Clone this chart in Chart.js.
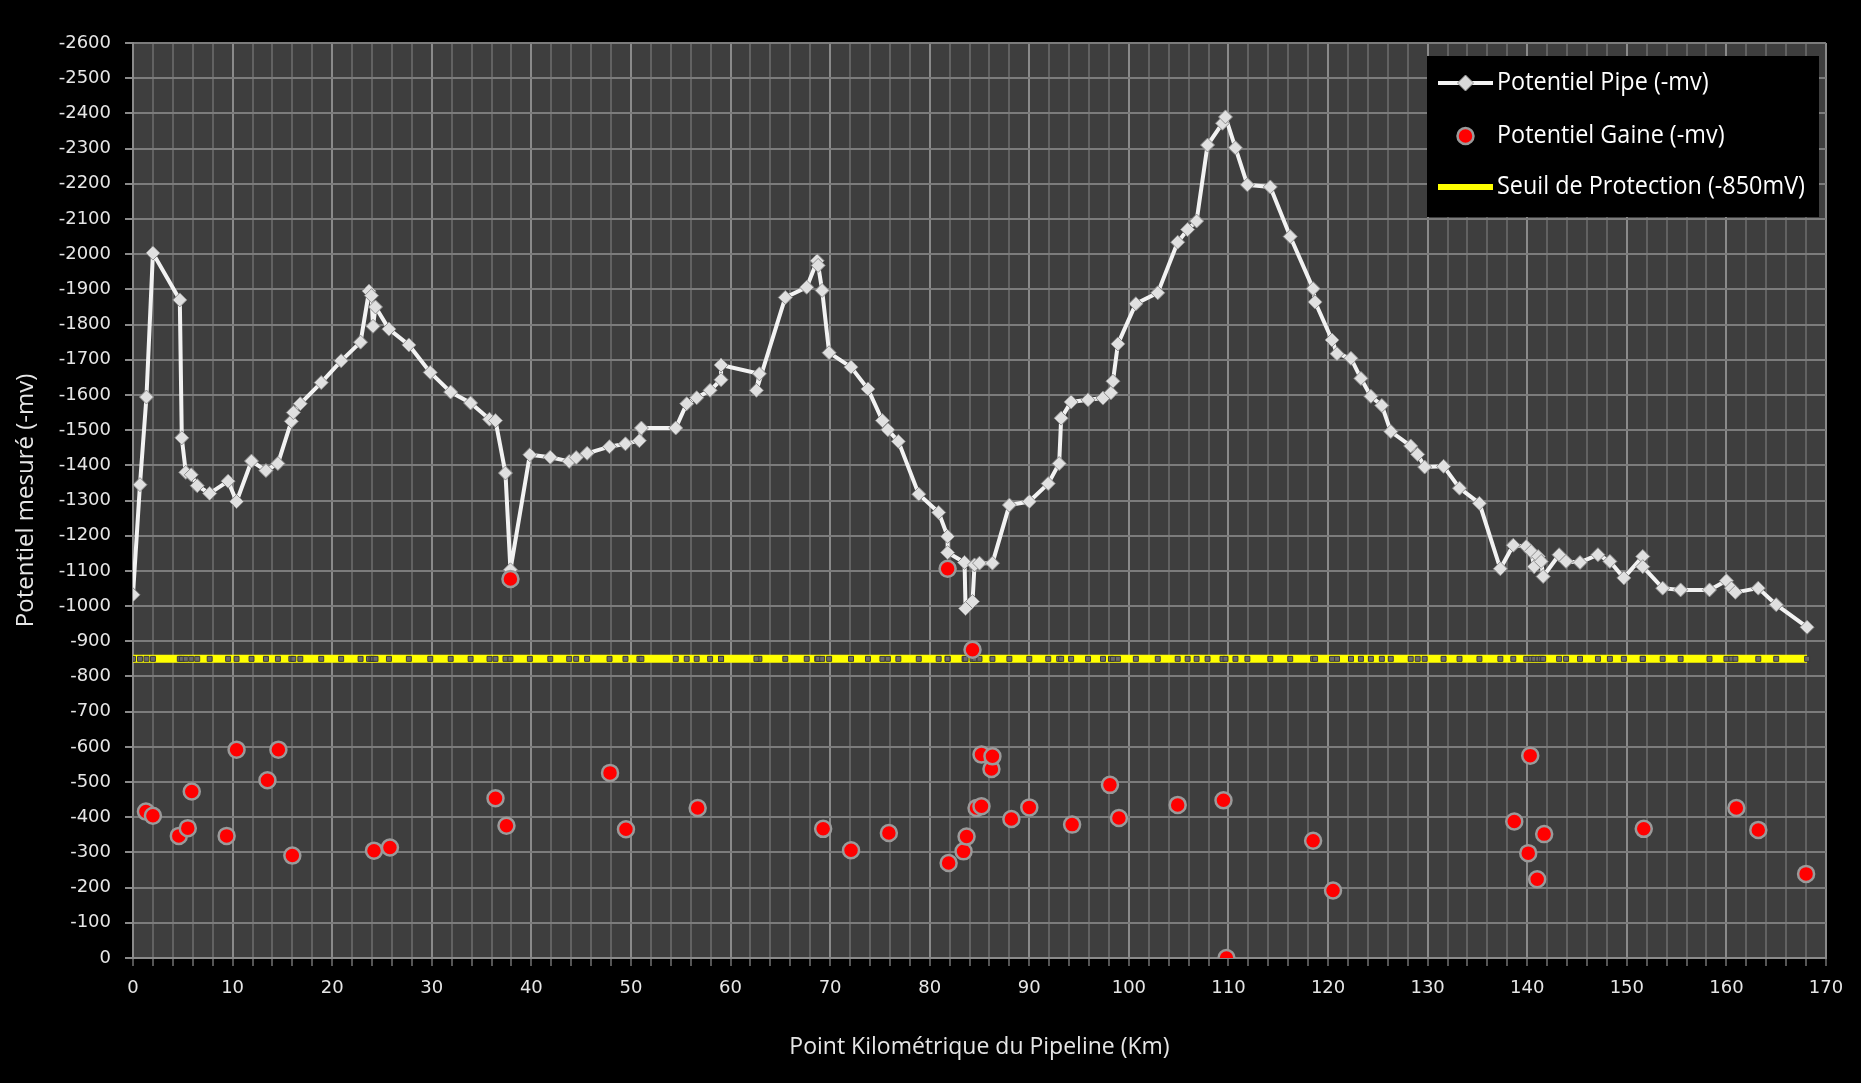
<!DOCTYPE html>
<html>
<head>
<meta charset="utf-8">
<script src="https://cdn.jsdelivr.net/npm/chart.js@4"></script>
<style>
    body { margin: 0; background: #000; }
    canvas { display: block; }
</style>
</head>
<body>
<canvas id="pipeChart" width="1861" height="1083"></canvas>
<script>
const pipeKm = [0.0, 0.7, 1.35, 2.0, 4.7, 4.9, 5.3, 5.85, 6.45, 7.7,
    9.55, 10.4, 11.9, 13.35, 14.55, 15.9, 16.1, 16.8, 18.9, 20.9,
    22.85, 23.7, 23.95, 24.1, 24.35, 25.7, 27.7, 29.85, 31.9, 33.9,
    35.8, 36.4, 37.4, 37.9, 39.85, 41.9, 43.8, 44.5, 45.6, 47.85,
    49.45, 50.85, 51.05, 54.5, 55.6, 56.6, 57.95, 59.05, 59.05, 62.9,
    62.6, 65.5, 67.65, 68.7, 68.8, 69.2, 69.9, 72.1, 73.8, 75.25,
    75.8, 76.85, 78.9, 80.9, 81.8, 81.8, 83.5, 83.6, 84.3, 84.5,
    85.0, 86.3, 88.0, 90.0, 91.9, 93.0, 93.2, 94.2, 95.9, 97.4,
    98.2, 98.4, 98.9, 100.7, 102.9, 104.9, 105.9, 106.8, 107.9, 109.4,
    109.7, 110.7, 111.9, 114.2, 116.2, 118.5, 118.7, 120.4, 120.9, 122.3,
    123.3, 124.3, 125.4, 126.3, 128.3, 129.0, 129.7, 131.6, 133.2, 135.2,
    137.3, 138.6, 139.9, 140.4, 140.7, 141.1, 141.4, 141.6, 143.2, 143.9,
    145.3, 147.1, 148.3, 149.7, 151.6, 151.6, 153.6, 155.4, 158.3, 160.0,
    160.5, 160.9, 163.2, 165.0, 168.1];

const pipeMv = [-1032, -1345, -1594, -2003, -1870, -1478, -1380, -1373, -1342, -1320,
    -1355, -1297, -1412, -1385, -1405, -1525, -1550, -1575, -1635, -1697,
    -1750, -1895, -1882, -1795, -1850, -1787, -1742, -1664, -1608, -1577,
    -1531, -1527, -1378, -1103, -1430, -1423, -1411, -1422, -1434, -1453,
    -1461, -1470, -1506, -1506, -1575, -1592, -1613, -1643, -1685, -1660,
    -1613, -1877, -1906, -1981, -1968, -1897, -1720, -1679, -1617, -1527,
    -1501, -1468, -1318, -1266, -1198, -1152, -1124, -993, -1013, -1117,
    -1122, -1122, -1287, -1297, -1348, -1405, -1534, -1580, -1586, -1591,
    -1606, -1639, -1745, -1859, -1890, -2034, -2070, -2094, -2310, -2372,
    -2390, -2302, -2197, -2191, -2050, -1902, -1864, -1756, -1717, -1704,
    -1647, -1596, -1570, -1496, -1455, -1431, -1395, -1397, -1335, -1292,
    -1106, -1173, -1169, -1155, -1112, -1141, -1127, -1084, -1146, -1127,
    -1124, -1146, -1127, -1080, -1141, -1112, -1051, -1046, -1046, -1072,
    -1051, -1039, -1051, -1004, -940];

const gaineKm = [1.3, 2.0, 4.6, 5.5, 5.9, 9.4, 10.4, 13.5, 14.6, 16.0,
    24.2, 25.8, 36.4, 37.5, 37.9, 47.9, 49.5, 56.7, 69.3, 72.1,
    75.9, 81.8, 81.9, 83.4, 83.7, 84.3, 84.7, 85.2, 85.2, 86.2,
    86.3, 88.2, 90.0, 94.3, 98.1, 99.0, 104.9, 109.5, 109.8, 118.5,
    120.5, 138.7, 140.1, 140.3, 141.0, 141.7, 151.7, 161.0, 163.2, 168.0];

const gaineMv = [-416, -404, -347, -369, -473, -347, -592, -505, -592, -291,
    -305, -314, -454, -376, -1077, -526, -366, -426, -367, -306,
    -355, -1106, -270, -303, -345, -876, -426, -431, -578, -537,
    -573, -395, -428, -379, -492, -398, -435, -448, 0, -333,
    -192, -388, -298, -575, -224, -352, -367, -426, -364, -239];

const seuilMv = -850;

const legendLabels = ["Potentiel Pipe (-mv)", "Potentiel Gaine (-mv)", "Seuil de Protection (-850mV)"];

Chart.defaults.font.family = "'DejaVu Sans', sans-serif";
Chart.defaults.color = "#e6e6e6";

const toPoints = (xs, ys) => xs.map((x, i) => ({ x: x, y: ys[i] }));

const plotBackground = {
    id: "plotBackground",
    beforeDraw(chart) {
        const { ctx, chartArea } = chart;
        ctx.save();
        ctx.fillStyle = "#3e3e3e";
        ctx.fillRect(chartArea.left, chartArea.top, chartArea.right - chartArea.left, chartArea.bottom - chartArea.top);
        ctx.restore();
    }
};

const boxLegend = {
    id: "boxLegend",
    afterDraw(chart) {
        const { ctx, chartArea } = chart;
        const right = chartArea.right - 7;
        const top = chartArea.top + 13;
        const left = right - 392;
        ctx.save();
        ctx.fillStyle = "#000";
        ctx.fillRect(left, top, 392, 161);

        const rows = [top + 27, top + 80, top + 131];
        const x1 = left + 11;
        const x2 = left + 66;
        const mid = (x1 + x2) / 2;

        ctx.strokeStyle = "#f2f2f2";
        ctx.lineWidth = 4;
        ctx.beginPath();
        ctx.moveTo(x1, rows[0]);
        ctx.lineTo(x2, rows[0]);
        ctx.stroke();
        ctx.fillStyle = "#d8d8d8";
        ctx.strokeStyle = "#909090";
        ctx.lineWidth = 1;
        ctx.beginPath();
        ctx.moveTo(mid, rows[0] - 8);
        ctx.lineTo(mid + 8, rows[0]);
        ctx.lineTo(mid, rows[0] + 8);
        ctx.lineTo(mid - 8, rows[0]);
        ctx.closePath();
        ctx.fill();
        ctx.stroke();

        ctx.fillStyle = "#ff0000";
        ctx.strokeStyle = "#9a9a9a";
        ctx.lineWidth = 2.5;
        ctx.beginPath();
        ctx.arc(mid, rows[1], 8, 0, Math.PI * 2);
        ctx.fill();
        ctx.stroke();

        ctx.strokeStyle = "#ffff00";
        ctx.lineWidth = 6;
        ctx.beginPath();
        ctx.moveTo(x1, rows[2]);
        ctx.lineTo(x2, rows[2]);
        ctx.stroke();

        // the original uses a condensed face, squeeze the text to the same width
        ctx.fillStyle = "#ffffff";
        ctx.font = "25px 'Open Sans', sans-serif";
        ctx.textBaseline = "middle";
        const squeeze = 308 / ctx.measureText(legendLabels[2]).width;
        legendLabels.forEach((label, i) => {
            ctx.save();
            ctx.translate(x2 + 4, rows[i]);
            ctx.scale(squeeze, 1);
            ctx.fillText(label, 0, 0);
            ctx.restore();
        });
        ctx.restore();
    }
};

const ctx = document.getElementById("pipeChart");

new Chart(ctx, {
    type: "scatter",
    data: {
        datasets: [
            {
                label: legendLabels[0],
                data: toPoints(pipeKm, pipeMv),
                showLine: true,
                borderColor: "#f2f2f2",
                borderWidth: 4,
                pointStyle: "rectRot",
                pointRadius: 7,
                pointBackgroundColor: "#e0e0e0",
                pointBorderColor: "#8e8e8e",
                pointBorderWidth: 1,
                order: 1
            },
            {
                label: legendLabels[1],
                data: toPoints(gaineKm, gaineMv),
                pointStyle: "circle",
                pointRadius: 8,
                pointBackgroundColor: "#ff0000",
                pointBorderColor: "#9a9a9a",
                pointBorderWidth: 2.5,
                order: 0
            },
            {
                label: legendLabels[2],
                data: pipeKm.map(x => ({ x: x, y: seuilMv })),
                showLine: true,
                borderColor: "#ffff00",
                borderWidth: 8,
                pointStyle: "rect",
                pointRadius: 3.5,
                pointBackgroundColor: "#6a6a6a",
                pointBorderColor: "#3a3a3a",
                pointBorderWidth: 1,
                order: 2
            }
        ]
    },
    options: {
        responsive: false,
        animation: false,
        devicePixelRatio: 1,
        layout: { padding: { top: 43, right: 35, left: 0, bottom: 0 } },
        plugins: {
            legend: { display: false },
            tooltip: { enabled: false }
        },
        scales: {
            x: {
                type: "linear",
                min: 0,
                max: 170,
                afterFit: (scale) => { scale.height = 125; },
                ticks: {
                    stepSize: 2,
                    autoSkip: false,
                    maxRotation: 0,
                    padding: 12,
                    color: "#e6e6e6",
                    font: { size: 18 },
                    callback: (value) => value % 10 === 0 ? String(value) : ""
                },
                grid: {
                    color: (c) => c.tick && c.tick.value % 10 === 0 ? "#8a8a8a" : "#626262",
                    lineWidth: 2,
                    tickLength: 8,
                    tickColor: "#555"
                },
                border: { color: "#8a8a8a", width: 2 },
                title: {
                    display: true,
                    text: "Point Kilométrique du Pipeline (Km)",
                    color: "#e6e6e6",
                    font: { size: 23, family: "'Open Sans', sans-serif" },
                    padding: { top: 0, bottom: 22 }
                }
            },
            y: {
                min: -2600,
                max: 0,
                reverse: true,
                afterFit: (scale) => { scale.width = 133; },
                ticks: {
                    stepSize: 100,
                    padding: 14,
                    color: "#e6e6e6",
                    font: { size: 18 },
                    callback: (value) => String(value)
                },
                grid: {
                    color: "#7c7c7c",
                    lineWidth: 2,
                    tickLength: 8,
                    tickColor: "#8a8a8a"
                },
                border: { color: "#8a8a8a", width: 2 },
                title: {
                    display: true,
                    text: "Potentiel mesuré (-mv)",
                    color: "#e6e6e6",
                    font: { size: 24, family: "'Open Sans', sans-serif" },
                    padding: { top: 12, bottom: 0 }
                }
            }
        }
    },
    plugins: [plotBackground, boxLegend]
});
</script>
</body>
</html>
